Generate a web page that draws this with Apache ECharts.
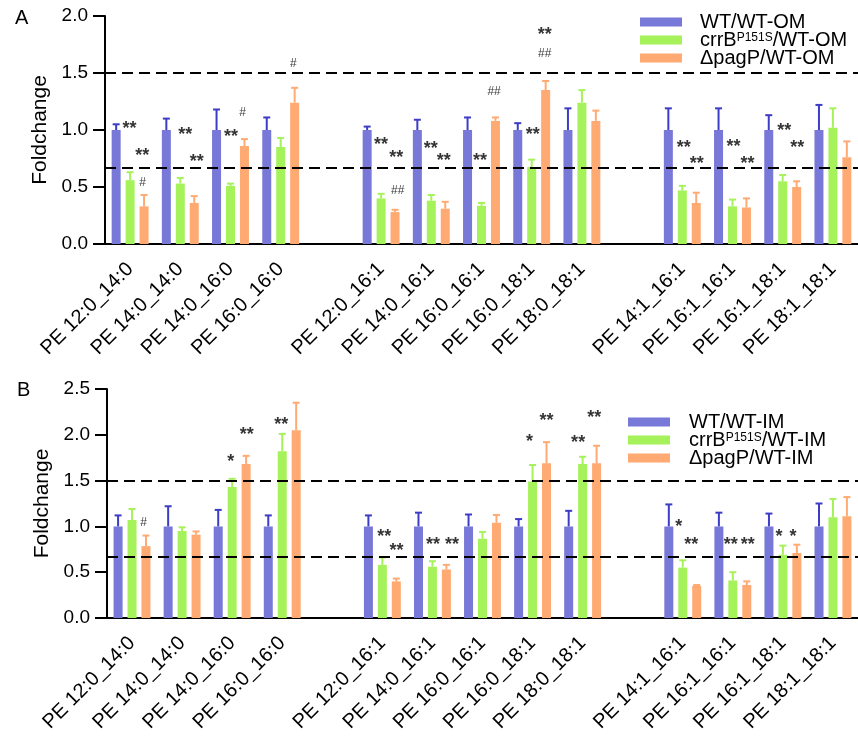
<!DOCTYPE html>
<html><head><meta charset="utf-8">
<script src="https://cdn.jsdelivr.net/npm/echarts@6/dist/echarts.min.js"></script>
<style>html,body{margin:0;padding:0;background:#fff}#c{width:858px;height:740px}</style>
</head><body><div id="c"></div>
<script>
const categories = ['PE 12:0_14:0','PE 14:0_14:0','PE 14:0_16:0','PE 16:0_16:0','',
  'PE 12:0_16:1','PE 14:0_16:1','PE 16:0_16:1','PE 16:0_18:1','PE 18:0_18:1','',
  'PE 14:1_16:1','PE 16:1_16:1','PE 16:1_18:1','PE 18:1_18:1'];

const seriesNamesA = ['WT/WT-OM','crrBP151S/WT-OM','\u0394pagP/WT-OM'];
const seriesNamesB = ['WT/WT-IM','crrBP151S/WT-IM','\u0394pagP/WT-IM'];

// Panel A (outer membrane)
const wtOM     = [1,1,1,1,null,1,1,1,1,1,null,1,1,1,1];
const wtOMErr  = [0.05,0.10,0.18,0.11,null,0.03,0.09,0.11,0.06,0.19,null,0.19,0.19,0.13,0.22];
const crrOM    = [0.56,0.53,0.51,0.85,null,0.40,0.38,0.335,0.675,1.24,null,0.47,0.33,0.55,1.02];
const crrOMErr = [0.07,0.05,0.02,0.08,null,0.04,0.05,0.025,0.065,0.11,null,0.04,0.06,0.055,0.17];
const pagOM    = [0.33,0.36,0.86,1.24,null,0.28,0.31,1.08,1.35,1.08,null,0.36,0.32,0.50,0.76];
const pagOMErr = [0.10,0.06,0.06,0.13,null,0.02,0.06,0.03,0.08,0.09,null,0.09,0.08,0.05,0.14];

// Panel B (inner membrane)
const wtIM     = [1,1,1,1,null,1,1,1,1,1,null,1,1,1,1];
const wtIMErr  = [0.12,0.22,0.18,0.12,null,0.12,0.15,0.13,0.08,0.17,null,0.24,0.15,0.14,0.25];
const crrIM    = [1.07,0.95,1.43,1.82,null,0.58,0.56,0.865,1.49,1.68,null,0.55,0.41,0.69,1.10];
const crrIMErr = [0.12,0.04,0.09,0.19,null,0.08,0.06,0.075,0.18,0.08,null,0.08,0.09,0.10,0.20];
const pagIM    = [0.785,0.91,1.68,2.05,null,0.40,0.53,1.04,1.69,1.69,null,0.35,0.36,0.71,1.11];
const pagIMErr = [0.115,0.035,0.09,0.30,null,0.03,0.05,0.085,0.23,0.19,null,0.01,0.04,0.09,0.21];

const refLines = [1.5, 0.667];
const yTicksA = {min:0, max:2.0, interval:0.5};
const yTicksB = {min:0, max:2.5, interval:0.5};

// significance marks: [x on category scale, y value, text]
const annotA = [
  [-0.01,1.04,'**'],[0.24,0.81,'**'],[0.25,0.54,'#'],
  [1.10,0.99,'**'],[1.33,0.75,'**'],
  [2.24,1.15,'#'],[2.01,0.97,'**'],
  [3.25,1.58,'#'],
  [5.00,0.90,'**'],[5.30,0.79,'**'],[5.33,0.47,'##'],
  [5.99,0.87,'**'],[6.25,0.76,'**'],
  [6.97,0.76,'**'],[7.25,1.34,'##'],
  [8.02,0.99,'**'],[8.26,1.87,'**'],[8.26,1.67,'##'],
  [11.03,0.88,'**'],[11.29,0.74,'**'],
  [12.02,0.89,'**'],[12.30,0.74,'**'],
  [13.03,1.03,'**'],[13.29,0.88,'**']
];
const annotB = [
  [0.23,1.04,'#'],
  [1.97,1.75,'*'],[2.29,2.04,'**'],
  [2.98,2.15,'**'],[3.30,2.58,'**'],
  [5.04,0.93,'**'],[5.28,0.77,'**'],
  [6.01,0.835,'**'],[6.39,0.835,'**'],
  [7.94,1.96,'*'],[8.28,2.19,'**'],
  [8.91,1.95,'**'],[9.23,2.23,'**'],
  [10.92,1.04,'*'],[11.17,0.835,'**'],
  [11.96,0.835,'**'],[12.30,0.835,'**'],
  [12.92,0.93,'*'],[13.20,0.93,'*']
];

const barColors = ['#7878D8','#A6F25A','#FFAA72'];
const errColors = ['#3C3CC6','#A6F25A','#FFAA72'];
const FONT = 'Liberation Sans, Arial, sans-serif';
const BAR_W = 9, BAR_GAP = 0.55, STEP = BAR_W * (1 + BAR_GAP);

function errRender(offset, color){
  return function(params, api){
    const x = api.value(0), v = api.value(1), e = api.value(2);
    const b = api.coord([x, v]);
    const t = api.coord([x, v + e]);
    const cx = b[0] + offset;
    return {type:'group', children:[
      {type:'line', shape:{x1:cx, y1:b[1], x2:cx, y2:t[1]}, style:{stroke:color, lineWidth:2}},
      {type:'line', shape:{x1:cx-3.5, y1:t[1], x2:cx+3.5, y2:t[1]}, style:{stroke:color, lineWidth:2}}
    ]};
  };
}

function panelSeries(gi, names, vals, errs, annots){
  const out = [];
  vals.forEach((arr, s) => {
    out.push({
      type:'bar', name:names[s], xAxisIndex:gi*2, yAxisIndex:gi,
      data:arr, barWidth:BAR_W, barGap:(BAR_GAP*100)+'%',
      itemStyle:{color:barColors[s]}, z:2, silent:true
    });
  });
  vals.forEach((arr, s) => {
    const d = [];
    arr.forEach((v, i) => { if (v != null) d.push([i, v, errs[s][i]]); });
    out.push({
      type:'custom', name:'err'+gi+s, xAxisIndex:gi*2, yAxisIndex:gi,
      renderItem:errRender((s-1)*STEP, errColors[s]), data:d, z:3, silent:true
    });
  });
  out.push({
    type:'line', name:'ref'+gi, xAxisIndex:gi*2, yAxisIndex:gi, data:[], z:4,
    markLine:{silent:true, symbol:'none', label:{show:false},
      lineStyle:{color:'#000', width:2, type:[11,6]},
      data:refLines.map(v => ({yAxis:v}))}
  });
  out.push({
    type:'scatter', name:'sig'+gi, xAxisIndex:gi*2+1, yAxisIndex:gi, z:5, silent:true,
    symbolSize:0,
    data:annots.map(a => {
      const isHash = a[2].indexOf('#') >= 0;
      return {value:[a[0], a[1]], label:{
        show:true, position:'inside', formatter:a[2], color:'#000',
        fontFamily:FONT, fontSize:isHash ? 12 : 18, fontWeight:isHash ? 'normal' : 'bold',
        offset:[0, isHash ? 0 : 4]
      }};
    })
  });
  return out;
}

const grids = [
  {left:105, top:16, width:756, height:228},
  {left:107, top:389, width:756, height:229}
];

function catAxis(gi){
  return {
    type:'category', gridIndex:gi, data:categories, boundaryGap:true,
    axisLine:{onZero:false, lineStyle:{color:'#000', width:2}},
    axisTick:{alignWithLabel:true, length:11, lineStyle:{color:'#000', width:2}},
    axisLabel:{interval:0, rotate:45, margin:22, color:'#000', fontSize:20, fontFamily:FONT}
  };
}
function hiddenAxis(gi){
  return {type:'value', gridIndex:gi, min:-0.5, max:14.5, show:false};
}
function valAxis(gi, t){
  return {
    type:'value', gridIndex:gi, min:t.min, max:t.max, interval:t.interval,
    name:'Foldchange', nameLocation:'middle', nameGap:43,
    nameTextStyle:{color:'#000', fontSize:21, fontFamily:FONT},
    axisLine:{show:true, onZero:false, lineStyle:{color:'#000', width:2}},
    axisTick:{show:true, length:12, lineStyle:{color:'#000', width:2}},
    axisLabel:{color:'#000', fontSize:19, fontFamily:FONT, margin:17, formatter:v => v.toFixed(1)},
    splitLine:{show:false}
  };
}

function legendFor(names, left, top, sp){
  return {
    data:names, orient:'vertical', left:left, top:top, icon:'rect',
    itemWidth:42, itemHeight:9, itemGap:-2, selectedMode:false,
    formatter: n => '{sp| }' + n.replace('P151S', '{sup|P151S}'),
    textStyle:{color:'#000', fontSize:20, lineHeight:17, fontFamily:FONT,
      rich:{sp:{width:sp, lineHeight:17}, sup:{fontSize:12, verticalAlign:'top', lineHeight:17, fontFamily:FONT}}}
  };
}

const chart = echarts.init(document.getElementById('c'), null, {renderer:'canvas'});
chart.setOption({
  animation:false,
  backgroundColor:'#fff',
  title:[
    {text:'A', left:10, top:3, textStyle:{fontSize:20, fontWeight:'normal', color:'#000', fontFamily:FONT}},
    {text:'B', left:12, top:375, textStyle:{fontSize:20, fontWeight:'normal', color:'#000', fontFamily:FONT}}
  ],
  legend:[legendFor(seriesNamesA, 635, 7, 13), legendFor(seriesNamesB, 623, 407, 14)],
  grid:grids,
  xAxis:[catAxis(0), hiddenAxis(0), catAxis(1), hiddenAxis(1)],
  yAxis:[valAxis(0, yTicksA), valAxis(1, yTicksB)],
  series:[].concat(
    panelSeries(0, seriesNamesA, [wtOM, crrOM, pagOM], [wtOMErr, crrOMErr, pagOMErr], annotA),
    panelSeries(1, seriesNamesB, [wtIM, crrIM, pagIM], [wtIMErr, crrIMErr, pagIMErr], annotB)
  )
});
</script></body></html>
